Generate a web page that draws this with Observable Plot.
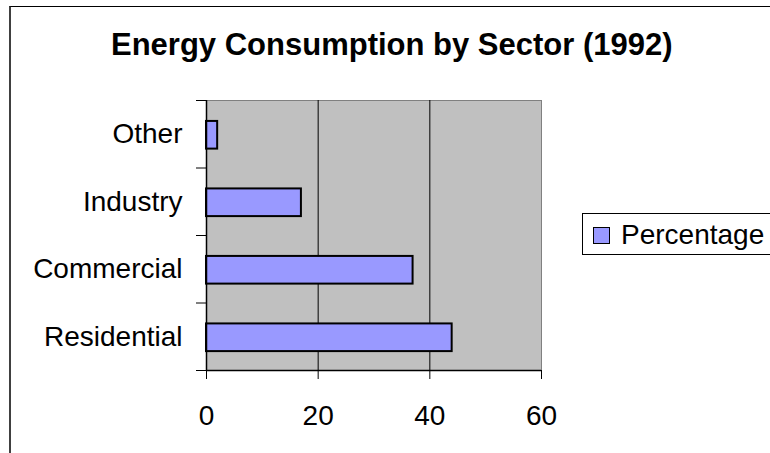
<!DOCTYPE html>
<html>
<head>
<meta charset="utf-8">
<script src="https://cdn.jsdelivr.net/npm/d3@7"></script>
<script src="https://cdn.jsdelivr.net/npm/@observablehq/plot@0.6"></script>
<style>
  html, body { margin: 0; padding: 0; background: #fff; }
  #wrap { position: relative; width: 770px; height: 453px; overflow: hidden; font-family: "Liberation Sans", Arial, sans-serif; color: #000; }
  #border { position: absolute; left: 9px; top: 6px; width: 1000px; height: 1000px; border-left: 2px solid #404040; border-top: 1px solid #000; box-sizing: border-box; }
  #title { position: relative; height: 80px; }
  #title span { position: absolute; left: 111px; top: 29px; font-size: 31px; line-height: 31px; font-weight: bold; white-space: nowrap; }
  #legend { position: absolute; left: 582px; top: 213px; width: 300px; height: 42px; border: 1px solid #000; box-sizing: border-box; background: #fff; }
  #legend .sw { position: absolute; left: 10px; top: 13px; width: 17px; height: 17px; border: 1px solid #000; box-sizing: border-box; background: #9999ff; }
  #legend .lab { position: absolute; left: 38px; top: 7px; font-size: 28px; line-height: 28px; white-space: nowrap; }
  #chart { position: relative; }
</style>
</head>
<body>
<div id="wrap">
  <div id="border"></div>
  <div id="title"><span>Energy Consumption by Sector (1992)</span></div>
  <div id="chart"></div>
  <div id="legend"><div class="sw"></div><div class="lab">Percentage</div></div>
</div>
<script>
// Data
const categories = ["Residential", "Commercial", "Industry", "Other"];
const values = [44, 37, 17, 2];
const xTicks = [0, 20, 40, 60];
const gridValues = [20, 40];
const seriesName = "Percentage";

const data = categories.map((c, i) => ({category: c, value: values[i], idx: i}));
const boundaryTicks = d3.range(categories.length + 1);
const labelTicks = categories.map((c, i) => i + 0.5);

const chart = Plot.plot({
  width: 770,
  height: 373,
  marginLeft: 206,
  marginRight: 229,
  marginTop: 20,
  marginBottom: 83,
  style: {fontFamily: "'Liberation Sans', Arial, sans-serif", color: "#000", background: "transparent"},
  x: {domain: [0, 60], axis: null},
  y: {domain: [0, categories.length], axis: null},
  marks: [
    Plot.frame({fill: "#c0c0c0", stroke: "#808080"}),
    Plot.ruleX(gridValues, {stroke: "#000", strokeWidth: 1}),
    Plot.rectX(data, {
      x1: 0,
      x2: "value",
      y1: d => d.idx + 0.28,
      y2: d => d.idx + 0.69,
      fill: "#9999ff",
      stroke: "#000",
      strokeWidth: 2
    }),
    Plot.ruleX([0], {stroke: "#000", strokeWidth: 1.5}),
    Plot.ruleY([0], {stroke: "#000", strokeWidth: 1.5}),
    Plot.axisX({ticks: xTicks, tickSize: 9, tickPadding: 26, fontSize: 28, tickFormat: d => String(d), stroke: "#000", label: null}),
    Plot.axisY({ticks: boundaryTicks, tickSize: 10, tickFormat: () => "", stroke: "#000", label: null}),
    Plot.axisY({ticks: labelTicks, tickSize: 0, tickPadding: 24, fontSize: 28, tickFormat: d => categories[Math.floor(d)], label: null})
  ]
});
document.getElementById("chart").appendChild(chart);
</script>
</body>
</html>
